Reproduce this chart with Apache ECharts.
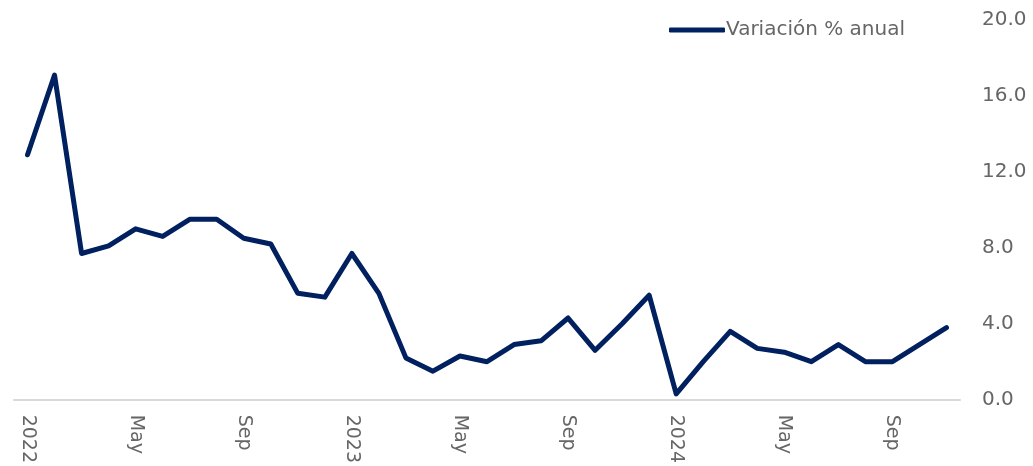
<!DOCTYPE html>
<html>
<head>
<meta charset="utf-8">
<script src="https://cdn.jsdelivr.net/npm/echarts@6/dist/echarts.min.js"></script>
<style>
  html, body { margin: 0; padding: 0; background: #fff; }
  #chart { width: 1033px; height: 466px; }
</style>
</head>
<body>
<div id="chart"></div>
<script>
  // meses ene 2022 - nov 2024
  var months = [
    '2022', 'Feb', 'Mar', 'Apr', 'May', 'Jun', 'Jul', 'Aug', 'Sep', 'Oct', 'Nov', 'Dec',
    '2023', 'Feb', 'Mar', 'Apr', 'May', 'Jun', 'Jul', 'Aug', 'Sep', 'Oct', 'Nov', 'Dec',
    '2024', 'Feb', 'Mar', 'Apr', 'May', 'Jun', 'Jul', 'Aug', 'Sep', 'Oct', 'Nov'
  ];
  var variacion = [
    12.9, 17.1, 7.7, 8.1, 9.0, 8.6, 9.5, 9.5, 8.5, 8.2, 5.6, 5.4,
    7.7, 5.6, 2.2, 1.5, 2.3, 2.0, 2.9, 3.1, 4.3, 2.6, 4.0, 5.5,
    0.3, 2.0, 3.6, 2.7, 2.5, 2.0, 2.9, 2.0, 2.0, 2.9, 3.8
  ];
  var yTicks = { min: 0, max: 20, interval: 4 };

  var FONT = "'DejaVu Sans', Verdana, sans-serif";
  var GRAY = '#666666';

  var chart = echarts.init(document.getElementById('chart'));
  var option = {
    animation: false,
    textStyle: { fontFamily: FONT },
    grid: { left: 14, right: 73, top: 20, bottom: 66 },
    legend: {
      left: 664,
      top: 15,
      icon: 'roundRect',
      itemWidth: 56,
      itemHeight: 5,
      itemGap: 0,
      textStyle: { color: GRAY, fontFamily: FONT, fontSize: 20, padding: [0, 0, 0, -4] },
      data: ['Variación % anual']
    },
    xAxis: {
      type: 'category',
      data: months,
      boundaryGap: true,
      axisLine: { lineStyle: { color: '#d9d9d9', width: 2 } },
      axisTick: { show: false },
      axisLabel: {
        interval: 3,
        rotate: -90,
        margin: 15,
        color: GRAY,
        fontFamily: FONT,
        fontSize: 19
      }
    },
    yAxis: {
      type: 'value',
      position: 'right',
      min: yTicks.min,
      max: yTicks.max,
      interval: yTicks.interval,
      splitLine: { show: false },
      axisLine: { show: false },
      axisTick: { show: false },
      axisLabel: {
        margin: 22,
        color: GRAY,
        fontFamily: FONT,
        fontSize: 20,
        formatter: function (v) { return v.toFixed(1); }
      }
    },
    series: [
      {
        name: 'Variación % anual',
        type: 'line',
        data: variacion,
        symbol: 'none',
        lineStyle: { color: '#002060', width: 5, cap: 'round', join: 'round' },
        itemStyle: { color: '#002060' }
      }
    ]
  };
  chart.setOption(option);
</script>
</body>
</html>
